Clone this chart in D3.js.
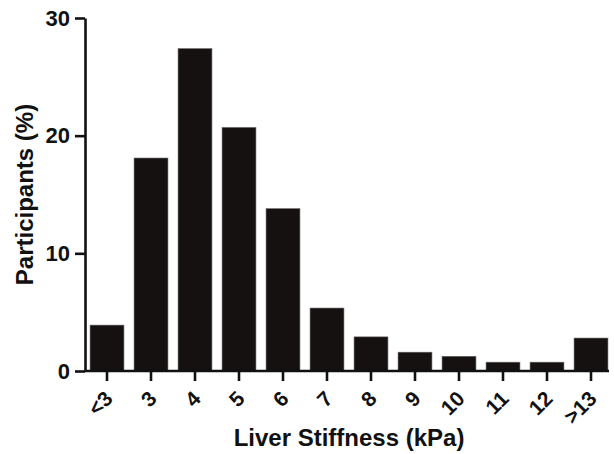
<!DOCTYPE html>
<html>
    <head>
        <meta charset="utf-8" />
        <script src="https://d3js.org/d3.v7.min.js"></script>
        <style>
            body {
                margin: 0;
                background: #fff;
            }

            text {
                font-family: "Liberation Sans", Arial, sans-serif;
                font-weight: bold;
                fill: #111;
            }

            .axis path,
            .axis line {
                stroke: #111;
                stroke-width: 2.6px;
            }

            .bar {
                fill: #141110;
                stroke: #6a6664;
                stroke-width: 0.6px;
            }
        </style>
    </head>
    <body>
        <svg id="chart" width="614" height="454"></svg>
        <script>
            var svg = d3.select("#chart");

            var categories = ["<3", "3", "4", "5", "6", "7", "8", "9", "10", "11", "12", ">13"];
            var participants = [3.9, 18.1, 27.4, 20.7, 13.8, 5.35, 2.9, 1.6, 1.25, 0.75, 0.75, 2.8];
            var yTicks = [0, 10, 20, 30];

            var plotLeft = 85, plotRight = 613, plotTop = 18, plotBottom = 371;

            var x = d3.scaleBand()
                .domain(categories)
                .range([plotLeft, plotRight])
                .paddingInner(0.23)
                .paddingOuter(0.115);

            var y = d3.scaleLinear()
                .domain([0, 30])
                .range([plotBottom, plotTop]);

            // bars first so axes sit on top
            svg.selectAll(".bar")
                .data(participants)
                .enter().append("rect")
                .attr("class", "bar")
                .attr("x", function(d, i) { return x(categories[i]); })
                .attr("y", function(d) { return y(d); })
                .attr("width", x.bandwidth())
                .attr("height", function(d) { return y(0) - y(d); });

            var yAxis = svg.append("g")
                .attr("class", "axis")
                .attr("transform", "translate(" + plotLeft + ",0)")
                .call(d3.axisLeft(y).tickValues(yTicks).tickSize(10).tickSizeOuter(0).tickPadding(5));

            yAxis.selectAll("text")
                .attr("font-size", 22)
                .style("fill", "#111");

            var xAxis = svg.append("g")
                .attr("class", "axis")
                .attr("transform", "translate(0," + plotBottom + ")")
                .call(d3.axisBottom(x).tickSize(10).tickSizeOuter(0));

            xAxis.select(".domain")
                .attr("d", "M" + plotLeft + ",0H609");

            xAxis.selectAll("text")
                .attr("font-size", 21)
                .attr("text-anchor", "end")
                .attr("y", 0)
                .attr("dy", 0)
                .attr("transform", "translate(7,29) rotate(-45)")
                .style("fill", "#111");

            svg.append("text")
                .attr("text-anchor", "middle")
                .attr("font-size", 24)
                .attr("transform", "translate(33," + ((plotTop + plotBottom) / 2) + ") rotate(-90)")
                .text("Participants (%)");

            svg.append("text")
                .attr("text-anchor", "middle")
                .attr("font-size", 24)
                .attr("x", 349)
                .attr("y", 446)
                .text("Liver Stiffness (kPa)");
        </script>
    </body>
</html>
